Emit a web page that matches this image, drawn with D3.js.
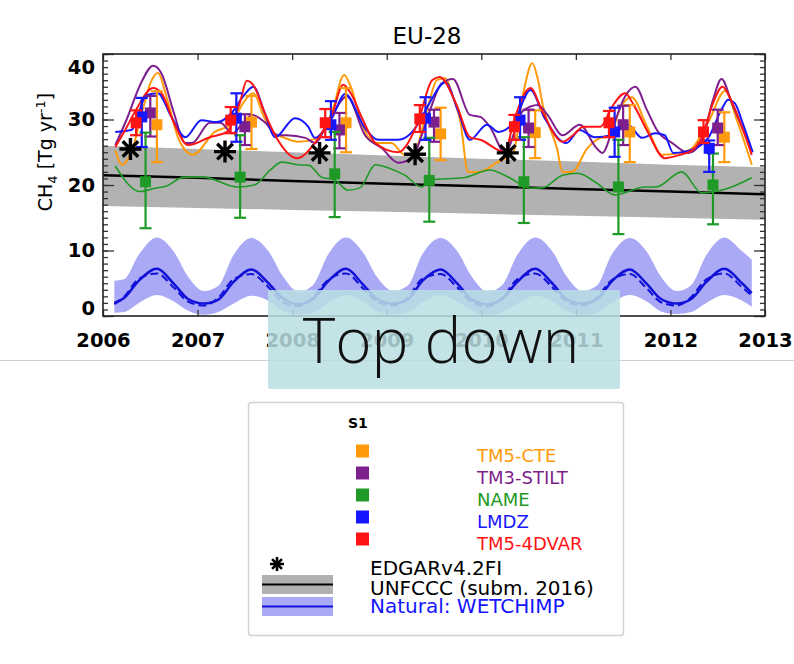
<!DOCTYPE html>
<html>
<head>
<meta charset="utf-8">
<script src="https://cdn.jsdelivr.net/npm/d3@7"></script>
<style>
  html, body { margin: 0; padding: 0; background: #fff; }
  svg { display: block; }
  text { font-family: "DejaVu Sans", sans-serif; }
</style>
</head>
<body>
<div id="chart"></div>
<script>
// ---------------- data ----------------
const axisYears = [2006, 2007, 2008, 2009, 2010, 2011, 2012, 2013];
const yMajor = [0, 10, 20, 30, 40];
const years = [2006, 2007, 2008, 2009, 2010, 2011, 2012];

const models = ['TM5-CTE', 'TM3-STILT', 'NAME', 'LMDZ', 'TM5-4DVAR'];
const modelColors = ['#ff9a0a', '#7e1f8e', '#1f9a26', '#1616ff', '#ff1414'];

// annual means with error bars
const cteMean = [29.2, 29.6, 29.5, 27.8, 28.0, 28.1, 27.3];
const cteLow = [23.5, 25.5, 25.0, 23.8, 24.1, 23.5, 23.5];
const cteHigh = [34.3, 33.6, 34.8, 31.8, 31.4, 32.2, 31.1];
const stiltMean = [31.0, 28.9, 28.4, 29.6, 28.7, 29.2, 28.7];
const stiltLow = [27.4, 26.1, 25.6, 26.6, 25.8, 26.1, 26.1];
const stiltHigh = [33.6, 30.8, 31.0, 31.5, 31.5, 32.1, 31.5];
const nameMean = [20.5, 21.2, 21.7, 20.7, 20.5, 19.7, 20.0];
const nameLow = [13.4, 15.0, 15.1, 14.4, 14.2, 12.5, 14.0];
const nameHigh = [28.0, 27.6, 28.1, 27.2, 27.3, 26.9, 24.8];
const lmdzMean = [30.4, 30.2, 29.2, 30.2, 29.9, 28.1, 25.6];
const lmdzLow = [25.8, 26.6, 26.9, 26.9, 26.9, 24.3, 22.0];
const lmdzHigh = [33.3, 34.0, 32.8, 33.4, 33.4, 31.8, 26.8];
const fdvarMean = [29.5, 29.9, 29.5, 30.1, 28.9, 29.5, 28.1];
const fdvarLow = [27.6, 27.9, 27.3, 28.1, 26.9, 27.3, 26.4];
const fdvarHigh = [31.4, 31.9, 31.6, 32.2, 30.7, 31.3, 29.9];

// monthly-ish series [decimal year, Tg/yr]
const cteLine = [[2006.13,25.3],[2006.2,23.1],[2006.3,25.0],[2006.42,31.5],[2006.5,35.5],[2006.58,37.1],[2006.68,33.0],[2006.8,27.0],[2006.95,24.6],[2007.18,28.1],[2007.36,29.3],[2007.48,32.5],[2007.59,34.0],[2007.7,30.5],[2007.79,28.1],[2007.92,27.2],[2008.06,26.6],[2008.24,27.0],[2008.42,31.1],[2008.55,36.8],[2008.62,35.0],[2008.74,29.2],[2008.88,26.4],[2009.05,26.4],[2009.19,24.6],[2009.29,25.0],[2009.44,32.2],[2009.53,36.0],[2009.62,36.3],[2009.7,33.5],[2009.78,29.6],[2009.86,22.0],[2009.98,22.0],[2010.17,23.5],[2010.34,25.0],[2010.44,33.7],[2010.54,38.6],[2010.6,36.0],[2010.65,32.2],[2010.8,25.6],[2010.86,22.0],[2010.96,22.0],[2011.12,25.6],[2011.22,26.9],[2011.37,27.8],[2011.47,31.8],[2011.59,33.4],[2011.75,29.0],[2011.91,24.6],[2012.2,25.3],[2012.4,29.6],[2012.58,34.4],[2012.7,30.0],[2012.86,23.1]];
const stiltLine = [[2006.13,26.1],[2006.25,30.0],[2006.4,35.5],[2006.53,38.2],[2006.62,37.0],[2006.75,31.0],[2006.87,26.4],[2006.94,26.4],[2007.13,29.5],[2007.24,29.5],[2007.37,27.9],[2007.48,29.5],[2007.58,30.7],[2007.71,29.6],[2007.85,27.6],[2007.94,27.6],[2008.14,27.2],[2008.24,26.4],[2008.38,29.6],[2008.58,33.5],[2008.77,27.6],[2008.95,25.6],[2009.12,23.4],[2009.27,24.1],[2009.37,27.6],[2009.46,31.5],[2009.58,35.5],[2009.7,36.2],[2009.88,30.7],[2009.99,30.4],[2010.09,28.9],[2010.25,25.0],[2010.44,31.3],[2010.6,32.2],[2010.7,30.7],[2010.86,27.6],[2011.04,29.2],[2011.22,25.6],[2011.28,24.9],[2011.41,29.6],[2011.52,33.5],[2011.63,35.0],[2011.75,31.5],[2011.87,28.1],[2012.02,26.4],[2012.19,24.9],[2012.33,26.6],[2012.45,33.0],[2012.54,36.2],[2012.65,32.5],[2012.86,25.3]];
const nameLine = [[2006.13,22.9],[2006.39,19.0],[2006.55,19.5],[2006.68,19.9],[2006.85,21.2],[2007.06,21.2],[2007.42,19.7],[2007.6,20.0],[2007.77,22.3],[2007.89,23.5],[2008.06,23.1],[2008.18,23.0],[2008.31,21.2],[2008.45,20.8],[2008.59,19.2],[2008.72,19.6],[2008.88,23.1],[2009.02,22.6],[2009.19,21.5],[2009.37,19.7],[2009.46,20.8],[2009.81,21.1],[2010.09,22.3],[2010.3,21.1],[2010.52,19.5],[2010.65,19.6],[2010.86,21.5],[2011.02,21.8],[2011.22,20.3],[2011.41,18.5],[2011.73,19.7],[2011.85,19.7],[2012.12,22.0],[2012.33,18.8],[2012.61,19.5],[2012.86,21.1]];
const lmdzLine = [[2006.13,28.1],[2006.3,28.4],[2006.46,33.7],[2006.58,34.0],[2006.72,30.5],[2006.87,27.3],[2007.04,29.9],[2007.2,29.6],[2007.36,31.0],[2007.48,33.5],[2007.59,35.0],[2007.71,31.0],[2007.82,27.3],[2008.03,30.2],[2008.17,28.9],[2008.24,27.2],[2008.42,30.2],[2008.56,33.9],[2008.77,28.7],[2008.91,26.9],[2009.12,26.9],[2009.27,28.1],[2009.4,31.1],[2009.46,32.7],[2009.62,35.7],[2009.75,31.5],[2009.88,26.9],[2010.06,29.2],[2010.18,28.1],[2010.34,29.5],[2010.52,34.5],[2010.67,30.2],[2010.9,26.4],[2011.04,28.4],[2011.2,27.3],[2011.38,27.6],[2011.55,29.2],[2011.7,27.2],[2011.84,27.9],[2011.94,27.6],[2012.03,24.9],[2012.26,25.6],[2012.4,27.2],[2012.55,31.8],[2012.61,33.0],[2012.68,32.5],[2012.76,29.6],[2012.87,25.0]];
const fdvarLine = [[2006.13,25.8],[2006.22,28.0],[2006.35,31.5],[2006.53,34.8],[2006.62,34.0],[2006.75,29.5],[2006.9,26.1],[2007.13,27.3],[2007.31,28.1],[2007.45,32.7],[2007.52,35.9],[2007.6,35.0],[2007.71,31.0],[2007.82,27.6],[2008.05,24.1],[2008.24,26.4],[2008.42,30.7],[2008.54,35.3],[2008.62,34.0],[2008.74,30.2],[2008.88,26.4],[2009.12,25.0],[2009.33,29.6],[2009.48,36.0],[2009.56,36.5],[2009.74,32.2],[2009.88,27.3],[2009.99,26.9],[2010.25,25.0],[2010.34,29.6],[2010.52,34.8],[2010.65,31.1],[2010.86,26.6],[2010.97,27.6],[2011.08,28.9],[2011.26,28.9],[2011.38,31.9],[2011.52,34.0],[2011.62,32.0],[2011.76,28.1],[2011.94,24.1],[2012.1,24.6],[2012.23,25.3],[2012.33,27.2],[2012.45,32.5],[2012.55,35.0],[2012.64,33.0],[2012.76,28.7],[2012.86,24.6]];

// EDGARv4.2FI
const edgarTime = [2006.29, 2007.29, 2008.29, 2009.30, 2010.28];
const edgarValue = [25.5, 25.1, 24.9, 24.7, 24.9];

// UNFCCC (subm. 2016) with uncertainty band
const unfcccTime = [2006, 2007, 2008, 2009, 2010, 2011, 2012, 2013];
const unfcccValue = [21.5, 21.1, 20.6, 20.2, 19.8, 19.4, 19.0, 18.6];
const unfcccLow = [16.8, 16.5, 16.2, 15.9, 15.6, 15.3, 15.0, 14.7];
const unfcccHigh = [26.0, 25.5, 25.0, 24.5, 24.0, 23.6, 23.1, 22.7];

// Natural: WETCHIMP
const natTime = [
  2006.12, 2006.22, 2006.38, 2006.57, 2006.75, 2006.90,
  2007.07, 2007.22, 2007.38, 2007.57, 2007.75, 2007.90,
  2008.07, 2008.22, 2008.38, 2008.57, 2008.75, 2008.90,
  2009.07, 2009.22, 2009.38, 2009.57, 2009.75, 2009.90,
  2010.07, 2010.22, 2010.38, 2010.57, 2010.75, 2010.90,
  2011.07, 2011.22, 2011.38, 2011.57, 2011.75, 2011.90,
  2012.07, 2012.22, 2012.38, 2012.57, 2012.75, 2012.86
];
const natMean = [
  2.0, 2.7, 5.4, 7.2, 4.9, 2.6,
  1.9, 2.5, 5.2, 7.1, 5.0, 2.7,
  1.8, 2.6, 5.3, 7.2, 4.8, 2.6,
  1.9, 2.5, 5.4, 7.1, 4.9, 2.5,
  1.8, 2.6, 5.2, 7.2, 5.0, 2.6,
  1.9, 2.5, 5.3, 7.1, 4.9, 2.6,
  1.9, 2.6, 5.2, 7.2, 5.1, 3.5
];
const natAlt = [
  1.8, 2.9, 5.7, 6.5, 4.3, 2.2,
  1.6, 2.8, 5.6, 6.4, 4.4, 2.1,
  1.5, 2.9, 5.5, 6.5, 4.2, 2.2,
  1.6, 2.8, 5.7, 6.4, 4.3, 2.1,
  1.5, 2.7, 5.6, 6.5, 4.4, 2.2,
  1.6, 2.8, 5.5, 6.4, 4.2, 2.1,
  1.6, 2.9, 5.6, 6.5, 4.5, 3.1
];
const natLow = [
  0.5, 0.6, 2.0, 3.2, 2.2, 0.8,
  0.2, 0.6, 1.9, 3.1, 2.3, 0.8,
  0.2, 0.5, 2.0, 3.2, 2.2, 0.7,
  0.3, 0.6, 2.1, 3.2, 2.2, 0.8,
  0.2, 0.6, 1.9, 3.1, 2.3, 0.8,
  0.2, 0.5, 2.0, 3.2, 2.2, 0.7,
  0.3, 0.6, 2.0, 3.2, 2.4, 1.4
];
const natHigh = [
  5.4, 5.6, 9.4, 12.0, 9.8, 6.0,
  3.8, 4.6, 9.3, 11.9, 9.9, 6.1,
  3.7, 4.7, 9.4, 12.0, 9.7, 5.9,
  3.8, 4.6, 9.5, 11.9, 9.8, 6.0,
  3.7, 4.7, 9.3, 12.0, 9.9, 6.1,
  3.8, 4.6, 9.4, 11.9, 9.8, 6.0,
  3.8, 4.7, 9.3, 12.0, 10.0, 8.6
];

// ---------------- layout ----------------
const W = 794, H = 664;
const plot = { left: 103, right: 765, top: 54, bottom: 316 };

const svg = d3.select('#chart').append('svg')
  .attr('width', W).attr('height', H)
  .attr('viewBox', `0 0 ${W} ${H}`);

const x = d3.scaleLinear().domain([2006, 2013]).range([plot.left, plot.right]);
const y = d3.scaleLinear().domain([0, 40]).range([plot.bottom, plot.top]);

const modelTable = [
  { name: models[0], color: modelColors[0], mean: cteMean, low: cteLow, high: cteHigh, line: cteLine },
  { name: models[1], color: modelColors[1], mean: stiltMean, low: stiltLow, high: stiltHigh, line: stiltLine },
  { name: models[2], color: modelColors[2], mean: nameMean, low: nameLow, high: nameHigh, line: nameLine },
  { name: models[3], color: modelColors[3], mean: lmdzMean, low: lmdzLow, high: lmdzHigh, line: lmdzLine },
  { name: models[4], color: modelColors[4], mean: fdvarMean, low: fdvarLow, high: fdvarHigh, line: fdvarLine }
];
// horizontal dodge of the annual markers within each year
const dodge = { 'TM5-CTE': 0.57, 'TM3-STILT': 0.50, 'NAME': 0.45, 'LMDZ': 0.41, 'TM5-4DVAR': 0.35 };

// title
svg.append('text')
  .attr('x', 427).attr('y', 44)
  .attr('text-anchor', 'middle')
  .style('font-size', '23px')
  .text('EU-28');

const g = svg.append('g');

// UNFCCC band + line
const unf = unfcccTime.map((t, i) => ({ t, v: unfcccValue[i], lo: unfcccLow[i], hi: unfcccHigh[i] }));
g.append('path')
  .datum(unf)
  .attr('fill', '#b2b2b2')
  .attr('d', d3.area().x(d => x(d.t)).y0(d => y(d.lo)).y1(d => y(d.hi)));

g.append('path')
  .datum(unf)
  .attr('fill', 'none').attr('stroke', '#000').attr('stroke-width', 2.5)
  .attr('d', d3.line().x(d => x(d.t)).y(d => y(d.v)));

// natural band + lines
const nat = natTime.map((t, i) => ({ t, m: natMean[i], a: natAlt[i], lo: natLow[i], hi: natHigh[i] }));
g.append('path')
  .datum(nat)
  .attr('fill', '#a9a9f6')
  .attr('d', d3.area().curve(d3.curveMonotoneX).x(d => x(d.t)).y0(d => y(d.lo)).y1(d => y(d.hi)));

g.append('path')
  .datum(nat)
  .attr('fill', 'none').attr('stroke', '#1010d8').attr('stroke-width', 2)
  .attr('stroke-dasharray', '8,4')
  .attr('d', d3.line().curve(d3.curveMonotoneX).x(d => x(d.t)).y(d => y(d.a)));

g.append('path')
  .datum(nat)
  .attr('fill', 'none').attr('stroke', '#1010d8').attr('stroke-width', 2.5)
  .attr('d', d3.line().curve(d3.curveMonotoneX).x(d => x(d.t)).y(d => y(d.m)));

// model time series
const lineGen = d3.line().curve(d3.curveMonotoneX).x(d => x(d[0])).y(d => y(d[1]));
g.selectAll('.mline')
  .data(modelTable)
  .enter().append('path')
  .attr('class', 'mline')
  .attr('fill', 'none')
  .attr('stroke', d => d.color)
  .attr('stroke-width', d => d.name === 'NAME' ? 1.6 : 2)
  .attr('d', d => lineGen(d.line));

// annual markers with error bars
const cap = 6, sq = 11;
modelTable.forEach(m => {
  const pts = years.map((yr, i) => ({ t: yr + dodge[m.name], v: m.mean[i], lo: m.low[i], hi: m.high[i] }));
  const mg = g.append('g').attr('stroke', m.color).attr('fill', m.color);
  mg.selectAll('.bar').data(pts).enter().append('line')
    .attr('x1', d => x(d.t)).attr('x2', d => x(d.t))
    .attr('y1', d => y(d.lo)).attr('y2', d => y(d.hi))
    .attr('stroke-width', 2.2);
  mg.selectAll('.capLo').data(pts).enter().append('line')
    .attr('x1', d => x(d.t) - cap).attr('x2', d => x(d.t) + cap)
    .attr('y1', d => y(d.lo)).attr('y2', d => y(d.lo))
    .attr('stroke-width', 2.2);
  mg.selectAll('.capHi').data(pts).enter().append('line')
    .attr('x1', d => x(d.t) - cap).attr('x2', d => x(d.t) + cap)
    .attr('y1', d => y(d.hi)).attr('y2', d => y(d.hi))
    .attr('stroke-width', 2.2);
  mg.selectAll('.sq').data(pts).enter().append('rect')
    .attr('x', d => x(d.t) - sq / 2).attr('y', d => y(d.v) - sq / 2)
    .attr('width', sq).attr('height', sq)
    .attr('stroke', 'none');
});

// asterisk symbol
function star(cx, cy, r) {
  let p = '';
  [0, 45, 90, 135].forEach(a => {
    const rad = a * Math.PI / 180, dx = r * Math.cos(rad), dy = r * Math.sin(rad);
    p += `M${cx - dx},${cy - dy}L${cx + dx},${cy + dy}`;
  });
  return p;
}
g.selectAll('.edgar')
  .data(edgarTime.map((t, i) => ({ t, v: edgarValue[i] })))
  .enter().append('path')
  .attr('d', d => star(x(d.t), y(d.v), 11))
  .attr('stroke', '#000').attr('stroke-width', 3.4).attr('fill', 'none');

// axes
const axG = svg.append('g').attr('class', 'axes');
axG.append('g').attr('transform', `translate(0,${plot.bottom})`)
  .call(d3.axisBottom(x).tickValues(axisYears).tickFormat(d3.format('d')).tickSizeInner(-6).tickSizeOuter(0).tickPadding(17));
axG.append('g').attr('transform', `translate(0,${plot.top})`)
  .call(d3.axisTop(x).tickValues(axisYears).tickFormat('').tickSizeInner(-6).tickSizeOuter(0));
const minor = d3.range(0, 41);
axG.append('g').attr('transform', `translate(${plot.left},0)`)
  .call(d3.axisLeft(y).tickValues(minor).tickFormat('').tickSizeInner(-5).tickSizeOuter(0));
axG.append('g').attr('transform', `translate(${plot.right},0)`)
  .call(d3.axisRight(y).tickValues(minor).tickFormat('').tickSizeInner(-5).tickSizeOuter(0));
const yl = axG.append('g').attr('transform', `translate(${plot.left},0)`)
  .call(d3.axisLeft(y).tickValues(yMajor).tickFormat(d3.format('d')).tickSizeInner(-11).tickSizeOuter(0).tickPadding(8));
axG.append('g').attr('transform', `translate(${plot.right},0)`)
  .call(d3.axisRight(y).tickValues(yMajor).tickFormat('').tickSizeInner(-11).tickSizeOuter(0));

axG.selectAll('.domain').remove();
axG.selectAll('.tick line').attr('stroke', '#333').attr('stroke-width', 1.3);
axG.selectAll('.tick text')
  .style('font-family', '"DejaVu Sans", sans-serif')
  .style('font-size', '19.5px').style('font-weight', 'bold').attr('fill', '#000');
// end labels sit inside the frame as in the original
yl.selectAll('.tick text').attr('dy', d => d === 40 ? '1.0em' : d === 0 ? '-0.1em' : '0.32em');

svg.append('rect')
  .attr('x', plot.left).attr('y', plot.top)
  .attr('width', plot.right - plot.left).attr('height', plot.bottom - plot.top)
  .attr('fill', 'none').attr('stroke', '#222').attr('stroke-width', 1.6);

// y title
const yt = svg.append('text')
  .attr('transform', `translate(52,152) rotate(-90)`)
  .attr('text-anchor', 'middle')
  .style('font-size', '19px');
yt.append('tspan').text('CH');
yt.append('tspan').attr('dy', 5).style('font-size', '13px').text('4');
yt.append('tspan').attr('dy', -5).text(' [Tg yr');
yt.append('tspan').attr('dy', -7).style('font-size', '13px').text('-1');
yt.append('tspan').attr('dy', 7).text(']');

// separator line
svg.append('line')
  .attr('x1', 0).attr('x2', W).attr('y1', 360.5).attr('y2', 360.5)
  .attr('stroke', '#cfcfcf').attr('stroke-width', 1);

// ---------------- legend ----------------
const lg = svg.append('g');
lg.append('rect')
  .attr('x', 248.5).attr('y', 402.5).attr('width', 375).attr('height', 233)
  .attr('rx', 3).attr('fill', '#fff').attr('stroke', '#d2d2d2').attr('stroke-width', 1.5);
lg.append('text').attr('x', 348).attr('y', 428)
  .style('font-size', '14px').style('font-weight', 'bold').text('S1');

modelTable.forEach((m, i) => {
  const cy = 451 + i * 22;
  lg.append('rect').attr('x', 356).attr('y', cy - 6.5).attr('width', 13).attr('height', 13).attr('fill', m.color);
  lg.append('text').attr('x', 477).attr('y', cy + 11)
    .style('font-size', '18px').attr('fill', m.color).text(m.name);
});

lg.append('path').attr('d', star(277, 564, 7)).attr('stroke', '#000').attr('stroke-width', 2.6);
lg.append('text').attr('x', 370).attr('y', 575).style('font-size', '20px').text('EDGARv4.2FI');

lg.append('rect').attr('x', 262).attr('y', 575).attr('width', 71).attr('height', 19).attr('fill', '#b2b2b2');
lg.append('line').attr('x1', 262).attr('x2', 333).attr('y1', 584.5).attr('y2', 584.5).attr('stroke', '#000').attr('stroke-width', 2);
lg.append('text').attr('x', 370).attr('y', 595).style('font-size', '20px').text('UNFCCC (subm. 2016)');

lg.append('rect').attr('x', 262).attr('y', 597).attr('width', 71).attr('height', 19).attr('fill', '#a9a9f6');
lg.append('line').attr('x1', 262).attr('x2', 333).attr('y1', 606.5).attr('y2', 606.5).attr('stroke', '#1010d8').attr('stroke-width', 2);
lg.append('text').attr('x', 370).attr('y', 613).style('font-size', '20px').attr('fill', '#1414ff').text('Natural: WETCHIMP');

// ---------------- overlay label ----------------
svg.append('rect')
  .attr('x', 268).attr('y', 290).attr('width', 352).attr('height', 99)
  .attr('rx', 2).attr('fill', 'rgb(186,222,227)').attr('fill-opacity', 0.85);
svg.append('text')
  .attr('x', 441).attr('y', 363)
  .attr('text-anchor', 'middle')
  .style('font-family', '"Open Sans", Lato, sans-serif')
  .style('font-weight', 300)
  .style('font-size', '62px')
  .attr('fill', '#111')
  .text('Top down');
</script>
</body>
</html>
